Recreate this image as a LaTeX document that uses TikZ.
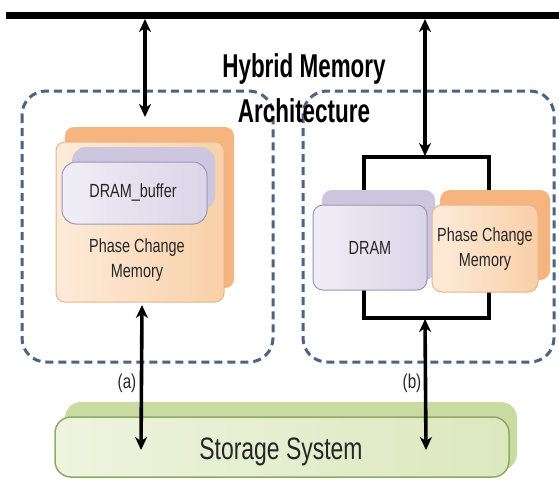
\documentclass[tikz,border=0pt]{standalone}
\usepackage{fontspec}
\setmainfont{Liberation Sans}
\newfontfamily\labelfont{Liberation Sans}[FakeStretch=0.76]
\newfontfamily\bigfont{Liberation Sans}[FakeStretch=0.74]
\newfontfamily\titlefont{Liberation Sans}[FakeStretch=0.68]
\usetikzlibrary{arrows.meta}

\definecolor{dashblue}{HTML}{4D6385}
\definecolor{pcmback}{HTML}{F6B47E}
\definecolor{pcmfrontA}{HTML}{FDEBDA}
\definecolor{pcmfrontB}{HTML}{F9D0A8}
\definecolor{pcmedge}{HTML}{E9B58A}
\definecolor{drback}{HTML}{CCC6DE}
\definecolor{drfrontA}{HTML}{F0EEF6}
\definecolor{drfrontB}{HTML}{DAD5E8}
\definecolor{dredge}{HTML}{9C96B6}
\definecolor{stback}{HTML}{C9DBA0}
\definecolor{stfrontA}{HTML}{EEF4DE}
\definecolor{stfrontB}{HTML}{DCE8BE}
\definecolor{stedge}{HTML}{8FAA62}

\tikzset{
  group/.style={draw=dashblue, line width=3pt, dash pattern=on 8pt off 5pt, rounded corners=24pt},
  pcmbacklayer/.style={fill=pcmback, draw=none, rounded corners=9pt},
  pcmlayer/.style={left color=pcmfrontA, right color=pcmfrontB, draw=pcmedge, line width=1pt, rounded corners=9pt},
  drbacklayer/.style={fill=drback, draw=none, rounded corners=14pt},
  drlayer/.style={left color=drfrontA, right color=drfrontB, draw=dredge, line width=1pt, rounded corners=14pt},
  stbacklayer/.style={fill=stback, draw=none, rounded corners=16pt},
  stlayer/.style={left color=stfrontA, right color=stfrontB, draw=stedge, line width=1.5pt, rounded corners=16pt},
  lbl/.style={font=\labelfont\fontsize{19}{25}\selectfont, text=black!85, align=center, inner sep=0pt},
  tag/.style={font=\labelfont\fontsize{20}{22}\selectfont, text=black!85, inner sep=0pt},
  biarr/.style={line width=3.6pt, {Stealth[length=13pt,width=12pt,inset=4pt]}-{Stealth[length=13pt,width=12pt,inset=4pt]}},
  bracket/.style={line width=3.4pt, line cap=rect}
}

\begin{document}
\begin{tikzpicture}[x=1pt, y=-1pt]
\useasboundingbox (0,0) rectangle (559,479);
\fill[white] (0,0) rectangle (559,479);

% system bus
\draw[line width=7pt] (6,15.5) -- (559,15.5);
\coordinate (busL) at (145,19);
\coordinate (busR) at (425,19);

% dashed groups
\draw[group] (22,91) rectangle (273,362);
\draw[group] (303,91) rectangle (554,362);

% title
\node[font=\titlefont\bfseries\fontsize{33}{45}\selectfont, align=center, inner sep=0pt, anchor=base] (title) at (304,122)
  {Hybrid Memory\\Architecture};

% (a) stacked PCM with DRAM buffer
\draw[pcmbacklayer] (65,127) rectangle (234,288);
\draw[pcmlayer] (56,142) rectangle (224,302);
\coordinate (pcmAtop) at (145,117);
\coordinate (pcmAbot) at (142,305);
\draw[drbacklayer] (72,147) rectangle (215,210);
\draw[drlayer] (62,162) rectangle (207,224);
\node[lbl] (drbuf) at (133,193) {DRAM\_buffer};
\node[lbl] (pcmA) at (137,260) {Phase Change\\Memory};

% (b) DRAM and PCM side by side, joined by a bracket
\coordinate (brT) at (425,156);
\coordinate (brB) at (425,319);
\draw[bracket] (364,190) |- (489,157) -- (489,190);
\draw[bracket] (364,288) |- (489,318) -- (489,288);
\draw[drbacklayer, rounded corners=10pt] (322,190) rectangle (435,280);
\draw[drlayer, rounded corners=10pt] (313,205) rectangle (427,290);
\draw[pcmbacklayer, rounded corners=10pt] (440,190) rectangle (550,280);
\draw[pcmlayer, rounded corners=10pt] (432,205) rectangle (538,292);
\node[lbl] (dramB) at (370,248) {DRAM};
\node[lbl] (pcmB) at (485,249) {Phase Change\\Memory};

% storage
\draw[stbacklayer] (65,402) rectangle (517,470);
\draw[stlayer] (55,417) rectangle (509,477);
\node[font=\bigfont\fontsize{31}{36}\selectfont, text=black!85, inner sep=0pt, anchor=base] (storage) at (281,459) {Storage System};
\coordinate (stL) at (141,450);
\coordinate (stR) at (426,450);

% connectors
\draw[biarr] (busL) -- (pcmAtop);
\draw[biarr] (busR) -- (brT);
\draw[biarr] (pcmAbot) -- (stL);
\draw[biarr] (brB) -- (stR);
\node[tag] (la) at (127,383) {(a)};
\node[tag] (lb) at (412,383) {(b)};
\end{tikzpicture}
\end{document}
